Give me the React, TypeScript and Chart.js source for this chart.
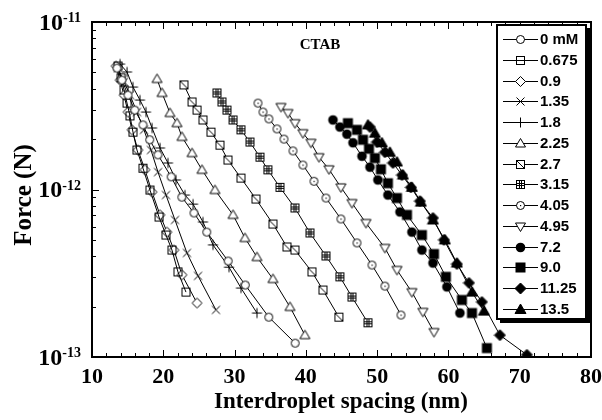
import { useEffect, useRef } from "react";
import { Chart, registerables } from "chart.js";
Chart.register(...registerables);

// ---- data (interdroplet spacing in nm, force in N) ----
const seriesLabels = ["0 mM", "0.675", "0.9", "1.35", "1.8", "2.25", "2.7", "3.15", "4.05", "4.95", "7.2", "9.0", "11.25", "13.5"];

const spacing_0 = [13.5, 14.2, 15.05, 16.0, 17.15, 18.1, 19.25, 21.1, 22.6, 24.3, 26.1, 29.1, 31.5, 34.8, 38.5];
const force_0 = [5.3e-12, 4.5e-12, 3.66e-12, 2.98e-12, 2.43e-12, 1.98e-12, 1.61e-12, 1.19e-12, 9.0e-13, 7.24e-13, 5.57e-13, 3.74e-13, 2.69e-13, 1.73e-13, 1.21e-13];

const spacing_0675 = [13.65, 14.07, 14.49, 14.91, 15.33, 15.75, 16.31, 17.15, 18.13, 19.4, 20.38, 21.22, 22.06, 23.18];
const force_0675 = [5.46e-12, 4.64e-12, 3.93e-12, 3.28e-12, 2.75e-12, 2.2e-12, 1.72e-12, 1.34e-12, 9.93e-13, 6.85e-13, 5.35e-13, 4.35e-13, 3.22e-13, 2.44e-13];

const spacing_09 = [13.37, 13.93, 14.49, 15.05, 15.61, 16.45, 17.43, 18.42, 19.54, 20.52, 21.5, 22.62, 24.73];
const force_09 = [5.46e-12, 4.5e-12, 3.66e-12, 2.9e-12, 2.27e-12, 1.72e-12, 1.31e-12, 9.66e-13, 7.05e-13, 5.57e-13, 4.35e-13, 3.09e-13, 2.1e-13];

const spacing_135 = [13.65, 14.49, 15.33, 16.31, 17.29, 18.27, 19.26, 20.38, 21.64, 23.32, 24.87, 27.39];
const force_135 = [5.3e-12, 4.39e-12, 3.66e-12, 2.9e-12, 2.27e-12, 1.72e-12, 1.27e-12, 9.27e-13, 6.58e-13, 4.18e-13, 3.05e-13, 1.91e-13];

const spacing_18 = [13.93, 14.91, 15.75, 16.73, 17.57, 18.42, 19.54, 20.66, 21.78, 23.04, 24.17, 25.57, 26.97, 29.21, 30.9, 33.14];
const force_18 = [5.61e-12, 5.03e-12, 4.09e-12, 3.42e-12, 2.9e-12, 2.33e-12, 1.77e-12, 1.44e-12, 1.14e-12, 9.27e-13, 8.18e-13, 6.4e-13, 4.67e-13, 3.44e-13, 2.58e-13, 1.83e-13];

const spacing_225 = [19.12, 19.82, 20.94, 21.92, 22.62, 24.03, 25.43, 27.25, 29.78, 31.46, 33.14, 35.39, 37.77, 39.87];
const force_225 = [4.57e-12, 3.77e-12, 2.86e-12, 2.49e-12, 2.06e-12, 1.65e-12, 1.31e-12, 9.93e-13, 7.05e-13, 5.13e-13, 3.95e-13, 2.92e-13, 1.99e-13, 1.35e-13];

const spacing_27 = [22.9, 24.03, 24.73, 25.57, 26.69, 27.95, 29.07, 30.9, 33.0, 35.39, 37.35, 38.47, 40.86, 42.4, 44.64];
const force_27 = [4.21e-12, 3.33e-12, 2.98e-12, 2.6e-12, 2.2e-12, 1.84e-12, 1.5e-12, 1.17e-12, 8.77e-13, 6.22e-13, 4.54e-13, 4.35e-13, 3.22e-13, 2.51e-13, 1.73e-13];

const spacing_315 = [27.53, 28.23, 28.93, 29.78, 30.9, 32.16, 33.56, 34.68, 36.37, 38.47, 40.58, 42.82, 44.78, 46.47, 48.71];
const force_315 = [3.77e-12, 3.33e-12, 2.98e-12, 2.6e-12, 2.27e-12, 1.92e-12, 1.56e-12, 1.31e-12, 1.03e-12, 7.76e-13, 5.5e-13, 4.01e-13, 3.01e-13, 2.28e-13, 1.6e-13];

const spacing_405 = [33.28, 33.98, 34.82, 35.95, 36.93, 38.19, 39.59, 41.14, 42.82, 44.92, 47.17, 49.27, 51.09, 53.34];
const force_405 = [3.28e-12, 2.9e-12, 2.64e-12, 2.3e-12, 2.0e-12, 1.7e-12, 1.4e-12, 1.12e-12, 8.89e-13, 6.67e-13, 4.8e-13, 3.54e-13, 2.65e-13, 1.78e-13];

const spacing_495 = [36.51, 37.49, 38.47, 39.59, 40.72, 41.84, 43.24, 44.92, 46.47, 48.43, 51.09, 52.78, 54.88, 56.42, 57.97];
const force_495 = [3.11e-12, 2.86e-12, 2.49e-12, 2.17e-12, 1.9e-12, 1.56e-12, 1.32e-12, 1.03e-12, 8.3e-13, 6.31e-13, 4.48e-13, 3.31e-13, 2.44e-13, 1.86e-13, 1.41e-13];

const spacing_72 = [43.8, 44.78, 45.76, 46.61, 47.87, 48.99, 50.11, 51.51, 53.2, 54.88, 56.28, 57.83, 59.79, 61.61];
const force_72 = [2.6e-12, 2.36e-12, 2.14e-12, 1.9e-12, 1.58e-12, 1.36e-12, 1.14e-12, 9.27e-13, 7.34e-13, 5.57e-13, 4.35e-13, 3.64e-13, 2.62e-13, 1.83e-13];

const spacing_90 = [45.9, 47.17, 48.01, 48.85, 49.69, 50.53, 51.51, 52.78, 54.18, 56.28, 57.97, 59.65, 61.89, 63.3, 65.4];
const force_90 = [2.49e-12, 2.27e-12, 1.98e-12, 1.75e-12, 1.54e-12, 1.32e-12, 1.09e-12, 8.89e-13, 7.05e-13, 5.35e-13, 4.12e-13, 3.01e-13, 2.19e-13, 1.83e-13, 1.13e-13];

const spacing_1125 = [48.99, 49.97, 51.09, 52.22, 53.48, 54.74, 56.0, 57.83, 59.37, 61.19, 62.88, 64.7, 67.22, 71.01];
const force_1125 = [2.36e-12, 1.92e-12, 1.67e-12, 1.44e-12, 1.22e-12, 1.03e-12, 8.53e-13, 6.76e-13, 5.0e-13, 3.59e-13, 2.77e-13, 2.13e-13, 1.35e-13, 1.03e-13];

const spacing_135b = [48.71, 49.69, 50.67, 51.79, 52.78, 53.62, 54.88, 56.14, 57.83, 59.51, 61.19, 63.3, 64.98];
const force_135b = [2.43e-12, 2.17e-12, 1.9e-12, 1.67e-12, 1.46e-12, 1.22e-12, 1.03e-12, 8.41e-13, 6.58e-13, 5.0e-13, 3.64e-13, 2.44e-13, 1.88e-13];

const allSpacing = [spacing_0, spacing_0675, spacing_09, spacing_135, spacing_18, spacing_225, spacing_27, spacing_315, spacing_405, spacing_495, spacing_72, spacing_90, spacing_1125, spacing_135b];
const allForce = [force_0, force_0675, force_09, force_135, force_18, force_225, force_27, force_315, force_405, force_495, force_72, force_90, force_1125, force_135b];

const xTickLabels = [10, 20, 30, 40, 50, 60, 70, 80];
const yTickExponents = [-13, -12, -11];

const markerKinds = ["circle", "square", "diamond", "x", "plus", "triangle", "squareDiag", "squareGrid", "circleDot", "triangleDown", "circleFilled", "squareFilled", "diamondFilled", "triangleFilled"];

const SERIF = '"Liberation Serif", "Times New Roman", serif';
const SANS = '"Liberation Sans", Arial, sans-serif';

function makeMarker(kind: string): HTMLCanvasElement {
  const s = 13;
  const c = document.createElement("canvas");
  c.width = s;
  c.height = s;
  const g = c.getContext("2d")!;
  const m = s / 2;
  g.strokeStyle = "#000";
  g.fillStyle = "#fff";
  g.lineWidth = 1;
  const poly = (pts: number[][], fill: string | null) => {
    g.beginPath();
    pts.forEach((p, i) => (i ? g.lineTo(p[0], p[1]) : g.moveTo(p[0], p[1])));
    g.closePath();
    if (fill) {
      g.fillStyle = fill;
      g.fill();
    }
    g.stroke();
  };
  const line = (a: number, b: number, c2: number, d: number) => {
    g.beginPath();
    g.moveTo(a, b);
    g.lineTo(c2, d);
    g.stroke();
  };
  switch (kind) {
    case "circle":
    case "circleDot":
      g.beginPath();
      g.arc(m, m, 4, 0, Math.PI * 2);
      g.fill();
      g.stroke();
      if (kind === "circleDot") {
        g.fillStyle = "#000";
        g.fillRect(6, 6, 1.2, 1.2);
      }
      break;
    case "circleFilled":
      g.beginPath();
      g.arc(m, m, 4.8, 0, Math.PI * 2);
      g.fillStyle = "#000";
      g.fill();
      break;
    case "square":
      g.strokeRect(2.5, 2.5, 8, 8);
      break;
    case "squareDiag":
      g.fillRect(2.5, 2.5, 8, 8);
      g.strokeRect(2.5, 2.5, 8, 8);
      line(2.5, 2.5, 10.5, 10.5);
      break;
    case "squareGrid":
      g.fillRect(2.5, 2.5, 8, 8);
      g.strokeRect(2.5, 2.5, 8, 8);
      line(5.5, 2.5, 5.5, 10.5);
      line(7.5, 2.5, 7.5, 10.5);
      line(2.5, 5.5, 10.5, 5.5);
      line(2.5, 7.5, 10.5, 7.5);
      break;
    case "squareFilled":
      g.fillStyle = "#000";
      g.fillRect(1.5, 1.5, 10, 10);
      break;
    case "diamond":
      poly([[m, m - 5], [m + 5, m], [m, m + 5], [m - 5, m]], "#fff");
      break;
    case "diamondFilled":
      poly([[m, m - 5.5], [m + 5.5, m], [m, m + 5.5], [m - 5.5, m]], "#000");
      break;
    case "triangle":
      poly([[m, m - 5], [m + 5, m + 3.5], [m - 5, m + 3.5]], "#fff");
      break;
    case "triangleFilled":
      poly([[m, m - 5.5], [m + 5.5, m + 4], [m - 5.5, m + 4]], "#000");
      break;
    case "triangleDown":
      poly([[m - 5, m - 3.5], [m + 5, m - 3.5], [m, m + 5]], "#fff");
      break;
    case "x":
      line(m - 4, m - 4, m + 4, m + 4);
      line(m + 4, m - 4, m - 4, m + 4);
      break;
    case "plus":
      line(m - 5, m, m + 5, m);
      line(m, m - 5, m, m + 5);
      break;
  }
  return c;
}

export default function App() {
  const ref = useRef<HTMLCanvasElement | null>(null);

  useEffect(() => {
    if (!ref.current) return;
    const markers = markerKinds.map(makeMarker);

    const datasets = seriesLabels.map((label, i) => ({
      label,
      data: allSpacing[i].map((x, j) => ({ x, y: allForce[i][j] })),
      showLine: true,
      borderColor: "#000",
      borderWidth: 1,
      backgroundColor: "#000",
      pointStyle: markers[i] as any,
      pointRadius: 5,
    }));

    const decor = {
      id: "decor",
      afterDraw(chart: any) {
        const ctx = chart.ctx as CanvasRenderingContext2D;
        const a = chart.chartArea;
        const xs = chart.scales.x;
        const ys = chart.scales.y;
        ctx.save();
        ctx.strokeStyle = "#000";
        ctx.fillStyle = "#000";

        // ticks (inward, mirrored)
        ctx.lineWidth = 1;
        const seg = (x1: number, y1: number, x2: number, y2: number) => {
          ctx.beginPath();
          ctx.moveTo(x1, y1);
          ctx.lineTo(x2, y2);
          ctx.stroke();
        };
        const xmin = xTickLabels[0];
        const xmax = xTickLabels[xTickLabels.length - 1];
        for (let v = xmin; v <= xmax; v += 2) {
          const px = Math.round(xs.getPixelForValue(v)) + 0.5;
          const len = v % 10 === 0 ? 7 : 4;
          seg(px, a.bottom, px, a.bottom - len);
          seg(px, a.top, px, a.top + len);
        }
        for (let k = 0; k < yTickExponents.length - 1; k++) {
          const e = yTickExponents[k];
          for (let mnt = 1; mnt < 10; mnt++) {
            const py = Math.round(ys.getPixelForValue(mnt * Math.pow(10, e))) + 0.5;
            const len = mnt === 1 ? 7 : 4;
            seg(a.left, py, a.left + len, py);
            seg(a.right, py, a.right - len, py);
          }
        }

        // frame
        ctx.lineWidth = 2;
        ctx.strokeRect(a.left, a.top, a.right - a.left, a.bottom - a.top);

        // x tick labels
        ctx.font = `bold 22px ${SERIF}`;
        ctx.textAlign = "center";
        ctx.textBaseline = "alphabetic";
        xTickLabels.forEach((v) => {
          ctx.fillText(String(v), xs.getPixelForValue(v), 383);
        });

        // y tick labels 10^e
        yTickExponents.forEach((e) => {
          const py = ys.getPixelForValue(Math.pow(10, e));
          ctx.font = `bold 14px ${SERIF}`;
          const sup = String(e);
          const sw = ctx.measureText(sup).width;
          ctx.textAlign = "left";
          ctx.fillText(sup, 81 - sw, py + 0);
          ctx.font = `bold 24px ${SERIF}`;
          ctx.textAlign = "right";
          ctx.fillText("10", 81 - sw, py + 7.5);
        });

        // axis titles
        ctx.font = `bold 23px ${SERIF}`;
        ctx.textAlign = "center";
        ctx.textBaseline = "alphabetic";
        ctx.fillText("Interdroplet spacing (nm)", 341, 408);
        ctx.save();
        ctx.translate(25, 195);
        ctx.rotate(-Math.PI / 2);
        ctx.font = `bold 25px ${SERIF}`;
        ctx.textBaseline = "middle";
        ctx.fillText("Force (N)", 0, 0);
        ctx.restore();

        // annotation
        ctx.font = `bold 15px ${SERIF}`;
        ctx.textAlign = "center";
        ctx.textBaseline = "middle";
        ctx.fillText("CTAB", 320, 45);

        // legend box with drop shadow
        const bx = 497, by = 25, bw = 89, bh = 294;
        ctx.fillStyle = "#000";
        ctx.fillRect(bx + 3, by + 3, bw + 1, bh + 1);
        ctx.fillStyle = "#fff";
        ctx.fillRect(bx, by, bw, bh);
        ctx.lineWidth = 2;
        ctx.strokeRect(bx, by, bw, bh);
        ctx.font = `bold 15px ${SANS}`;
        ctx.textAlign = "left";
        ctx.textBaseline = "middle";
        chart.data.datasets.forEach((ds: any, i: number) => {
          const y = Math.round(39 + i * 20.77) + 0.5;
          ctx.lineWidth = 1;
          ctx.strokeStyle = "#000";
          seg(503, y, 538, y);
          const img = ds.pointStyle as HTMLCanvasElement;
          ctx.drawImage(img, Math.round(520.5 - img.width / 2), Math.round(y - img.height / 2));
          ctx.fillStyle = "#000";
          ctx.fillText(ds.label, 540, y + 0.5);
        });
        ctx.restore();
      },
    };

    const chart = new Chart(ref.current, {
      type: "scatter",
      data: { datasets: datasets as any },
      options: {
        animation: false,
        responsive: false,
        maintainAspectRatio: false,
        layout: { padding: { top: 22, right: 11, left: 0, bottom: 0 } },
        plugins: { legend: { display: false }, tooltip: { enabled: false } },
        scales: {
          x: {
            type: "linear",
            min: 10,
            max: 80,
            ticks: { display: false },
            grid: { display: false },
            border: { display: false },
            afterFit: (s: any) => {
              s.height = 63;
            },
          },
          y: {
            type: "logarithmic",
            min: 1e-13,
            max: 1e-11,
            ticks: { display: false },
            grid: { display: false },
            border: { display: false },
            afterFit: (s: any) => {
              s.width = 92;
            },
          },
        },
      } as any,
      plugins: [decor],
    });
    return () => chart.destroy();
  }, []);

  return (
    <div style={{ position: "absolute", left: 0, top: 0, width: 602, height: 420, background: "#fff" }}>
      <canvas ref={ref} width={602} height={420} style={{ display: "block" }} />
    </div>
  );
}
